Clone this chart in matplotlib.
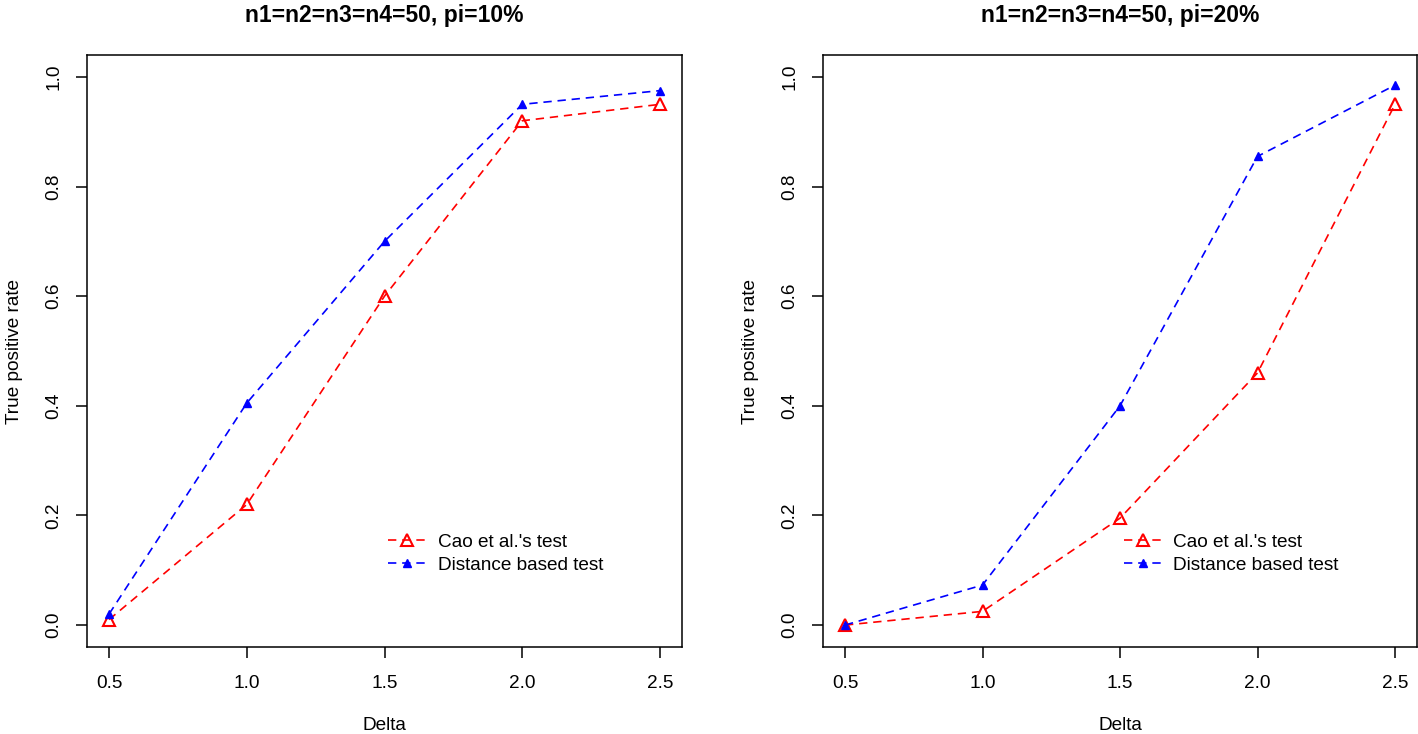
import matplotlib
matplotlib.use("Agg")
import matplotlib.pyplot as plt

plt.rcParams['font.family'] = ['Liberation Sans', 'DejaVu Sans']

delta = [0.5, 1.0, 1.5, 2.0, 2.5]
titles = ["n1=n2=n3=n4=50, pi=10%", "n1=n2=n3=n4=50, pi=20%"]
cao_10 = [0.01, 0.22, 0.60, 0.92, 0.95]
dist_10 = [0.02, 0.405, 0.70, 0.95, 0.975]
cao_20 = [0.0, 0.025, 0.195, 0.46, 0.95]
dist_20 = [0.0, 0.073, 0.40, 0.855, 0.985]
xticks = [0.5, 1.0, 1.5, 2.0, 2.5]
yticks = [0.0, 0.2, 0.4, 0.6, 0.8, 1.0]
legend_labels = ["Cao et al.'s test", "Distance based test"]

fs = 13.7
fig = plt.figure(figsize=(14.18, 7.34), dpi=100)
axes = [fig.add_axes([87/1418, 1-647/734, 595/1418, 592/734]),
        fig.add_axes([823/1418, 1-647/734, 594/1418, 592/734])]

for ax, title, cao, dist in zip(axes, titles, [cao_10, cao_20], [dist_10, dist_20]):
    ax.plot(delta, cao, color='red', linestyle='--', dashes=(5, 3.5), lw=1.2,
            marker='^', markersize=9, markerfacecolor='none', markeredgecolor='red',
            markeredgewidth=1.5, label=legend_labels[0])
    ax.plot(delta, dist, color='blue', linestyle='--', dashes=(5, 3.5), lw=1.2,
            marker='^', markersize=6, markerfacecolor='blue', markeredgecolor='blue',
            label=legend_labels[1])
    ax.set_xlim(0.42, 2.58)
    ax.set_ylim(-0.04, 1.04)
    ax.set_xticks(xticks)
    ax.set_xticklabels([f"{v:.1f}" for v in xticks])
    ax.set_yticks(yticks)
    ax.set_yticklabels([f"{v:.1f}" for v in yticks], rotation=90, va='center')
    ax.tick_params(axis='x', pad=12)
    ax.tick_params(axis='y', pad=10)
    ax.tick_params(direction='out', length=8, width=1.1, labelsize=fs)
    for s in ax.spines.values():
        s.set_linewidth(1.1)
    ax.set_title(title, fontsize=16.5, fontweight='bold', pad=24)
    ax.set_xlabel("Delta", fontsize=fs, labelpad=18)
    ax.set_ylabel("True positive rate", fontsize=fs, labelpad=16)
    ax.legend(loc='upper left', bbox_to_anchor=(0.49, 0.208), frameon=False,
              fontsize=fs, handlelength=2.0, handletextpad=0.6, labelspacing=0.3,
              borderpad=0)

fig.savefig("out.png", dpi=100)
